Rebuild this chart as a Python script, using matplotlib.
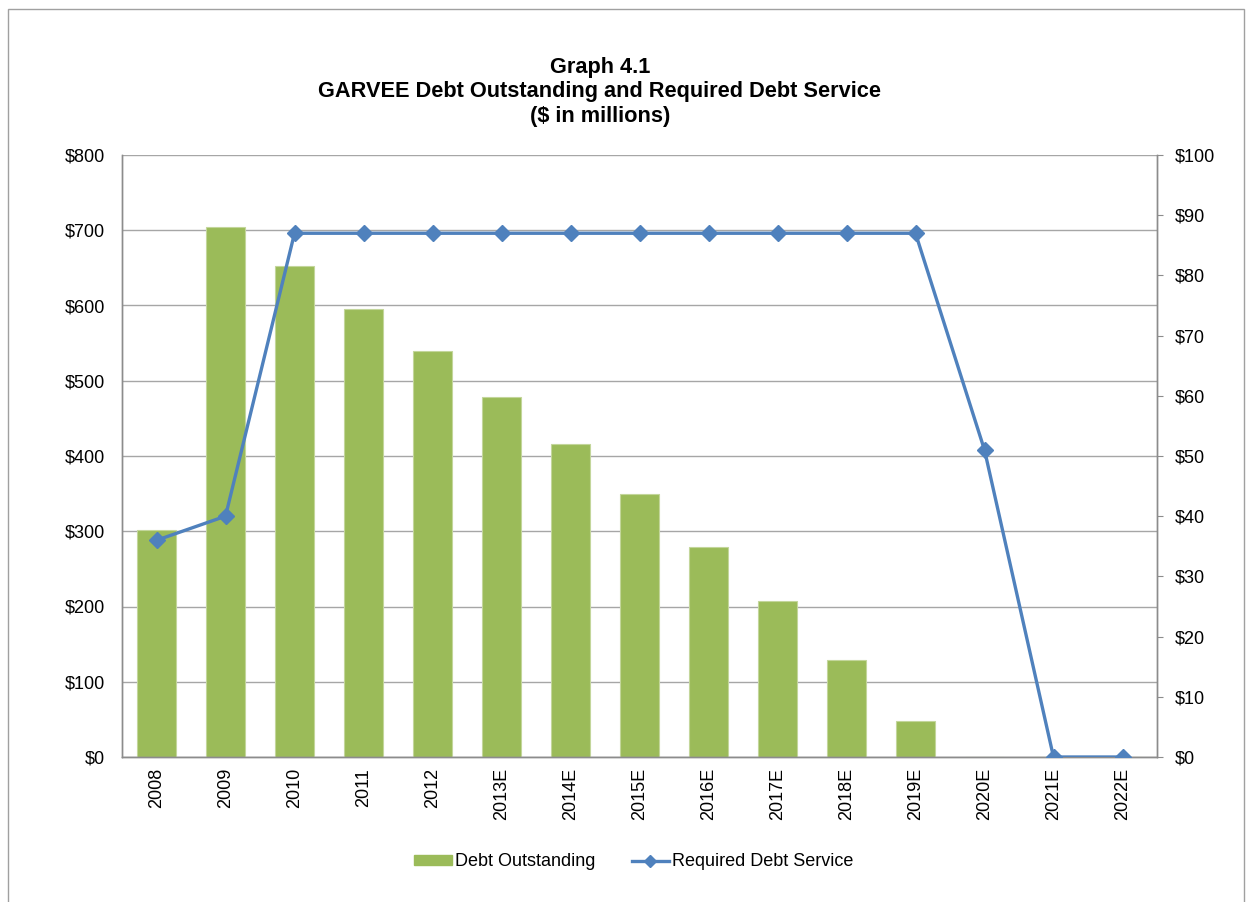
import matplotlib.pyplot as plt
from matplotlib.patches import Rectangle
from matplotlib.lines import Line2D
from matplotlib.ticker import FuncFormatter, MultipleLocator

plt.rcParams['font.family'] = ['Liberation Sans', 'DejaVu Sans']

years = ['2008', '2009', '2010', '2011', '2012', '2013E', '2014E', '2015E',
         '2016E', '2017E', '2018E', '2019E', '2020E', '2021E', '2022E']
debt_outstanding = [302, 704, 652, 596, 540, 478, 416, 349, 279, 207, 129, 48, 0, 0, 0]
debt_service = [36, 40, 87, 87, 87, 87, 87, 87, 87, 87, 87, 87, 51, 0, 0]

bar_color = '#9BBB59'
line_color = '#4F81BD'
grid_color = '#A6A6A6'

fig = plt.figure(figsize=(12.48, 9.02), dpi=100)
fig.patches.append(Rectangle((8 / 1248, -0.01), (1244 - 8) / 1248, 1.0,
                             transform=fig.transFigure, fill=False,
                             edgecolor='#A0A0A0', linewidth=1))

ax = fig.add_axes([122 / 1248, 1 - 757 / 902, (1157 - 122) / 1248, (757 - 155) / 902])
x = list(range(len(years)))

ax.bar(x, debt_outstanding, width=0.57, color=bar_color, edgecolor='#C3D69B',
       linewidth=0.8, zorder=2)
ax.set_xlim(-0.5, len(years) - 0.5)
ax.set_ylim(0, 800)
ax.yaxis.set_major_locator(MultipleLocator(100))
ax.yaxis.set_major_formatter(FuncFormatter(lambda v, p: f'${v:,.0f}'))
ax.grid(axis='y', color=grid_color, linewidth=1, zorder=0)
ax.set_axisbelow(True)
ax.set_xticks(x)
ax.set_xticklabels(years, rotation=90)

ax2 = ax.twinx()
ax2.plot(x, debt_service, color=line_color, linewidth=2.4, marker='D',
         markersize=8.5, zorder=3)
ax2.set_ylim(0, 100)
ax2.yaxis.set_major_locator(MultipleLocator(10))
ax2.yaxis.set_major_formatter(FuncFormatter(lambda v, p: f'${v:,.0f}'))

for a in (ax, ax2):
    for side, sp in a.spines.items():
        sp.set_color('#8C8C8C')
        sp.set_linewidth(1)
    a.spines['top'].set_visible(False)
    a.tick_params(axis='both', which='both', color='#8C8C8C',
                  labelsize=13, direction='out')
ax.tick_params(axis='y', length=0, pad=12)
ax.tick_params(axis='x', length=0, pad=8)
ax2.tick_params(axis='y', length=4, pad=9)

fig.text(600 / 1248, 1 - 92 / 902, 'Graph 4.1\nGARVEE Debt Outstanding and Required Debt Service\n($ in millions)',
         ha='center', va='center', fontsize=15.7, fontweight='bold', linespacing=1.22)

handles = [Rectangle((0, 0), 1, 1, color=bar_color),
           Line2D([0], [0], color=line_color, linewidth=2.4, marker='D', markersize=6)]
fig.legend(handles, ['Debt Outstanding', 'Required Debt Service'],
           loc='center', bbox_to_anchor=(0.508, 1 - 862 / 902), ncol=2, frameon=False,
           fontsize=13, handlelength=2.1, handleheight=0.5, handletextpad=0.15,
           columnspacing=2.0)

fig.savefig('out.png', dpi=100)
